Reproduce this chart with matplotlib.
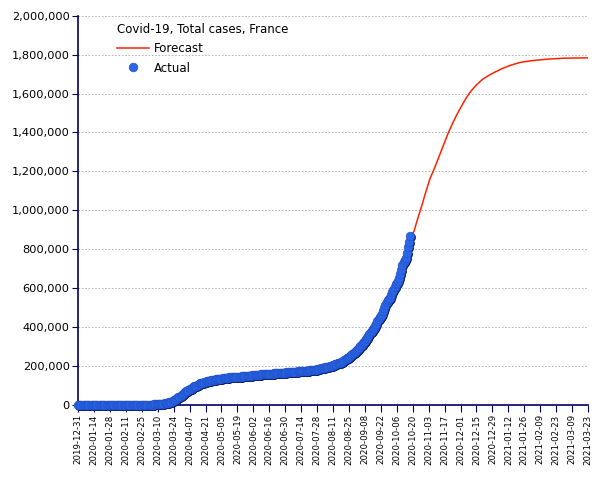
import matplotlib
matplotlib.use("Agg")
import matplotlib.pyplot as plt
import matplotlib.dates as mdates
import matplotlib.ticker as mticker
import matplotlib.transforms as mtransforms
import pandas as pd

# --- DATA ---
START_DATE = "2019-12-31"
END_DATE = "2021-03-23"

# daily total cases, 2019-12-31 .. 2020-10-18
actual_dec = [0]
actual_jan = [0, 0, 0, 0, 0, 0, 0, 0, 0, 0, 0, 0, 0, 0, 0, 0, 0, 0, 0, 0, 0, 0, 0, 0,
              3, 3, 3, 4, 4, 5, 5]
actual_feb = [6, 6, 6, 6, 6, 6, 6, 11, 11, 11, 11, 11, 11, 11,
              12, 12, 12, 12, 12, 12, 12, 12, 12, 12, 12, 18, 38, 57, 100]
actual_mar = [130, 191, 212, 285, 423, 613, 949, 1126, 1209, 1784, 2281, 2876, 3661,
              4499, 5423, 6633, 7730, 9134, 10995, 12612, 14459, 16018, 19856, 22302,
              25233, 29155, 32964, 37575, 40174, 44550, 52128]
actual_apr = [56989, 59105, 64338, 68605, 70478, 74390, 78167, 82048, 86334, 90276,
              93790, 95403, 98076, 103573, 106206, 108847, 109252, 111821, 112606,
              114657, 117324, 119151, 120804, 122577, 124114, 124575, 125770, 126835,
              128339, 129581]
actual_may = [130185, 130979, 131287, 131863, 132967, 137150, 137779, 138421, 138854,
              139063, 139519, 140227, 140734, 141356, 141919, 142291, 142411, 142903,
              143427, 143845, 144163, 144556, 144806, 145279, 145555, 145746, 146122,
              146476, 148524, 149071, 149668]
actual_jun = [151325, 151753, 152444, 153055, 153634, 153977, 154188, 154591, 155136,
              155561, 156287, 156813, 157220, 157716, 157716, 158174, 158641, 159452,
              160093, 160377, 160750, 160750, 161267, 161348, 162936, 162936, 164260,
              164260, 164260, 164801]
actual_jul = [165719, 166378, 166960, 167469, 167469, 167469, 168335, 168810, 169473,
              170094, 170752, 170752, 170752, 172377, 173304, 173304, 174674, 175027,
              175027, 175027, 176754, 177338, 178336, 180528, 180528, 180528, 180528,
              183079, 183804, 185196, 186573]
actual_aug = [187919, 187919, 187919, 191295, 192334, 194029, 195633, 197921, 197921,
              197921, 202775, 204172, 206696, 209365, 212211, 212211, 212211, 219029,
              221267, 225043, 229814, 234400, 238002, 238002, 242899, 248158, 253587,
              259698, 267077, 272530, 277943]
actual_sep = [281025, 286007, 293024, 300181, 309156, 317706, 324777, 328980, 335524,
              344101, 353944, 363350, 373911, 381094, 387252, 395104, 404888, 415481,
              428696, 442194, 452763, 458061, 468069, 481141, 497237, 513034, 527446,
              538569, 543987, 550690]
actual_oct = [563535, 577505, 589653, 606625, 619190, 624274, 634395, 653509, 671638,
              691977, 718873, 732434, 743479, 756472, 779063, 809684, 834770, 867197]

forecast_dates = ["2020-10-18", "2020-10-21", "2020-10-24", "2020-10-27", "2020-10-31",
                  "2020-11-04", "2020-11-08", "2020-11-12", "2020-11-16", "2020-11-20",
                  "2020-11-24", "2020-11-28", "2020-12-02", "2020-12-06", "2020-12-10",
                  "2020-12-15", "2020-12-20", "2020-12-25", "2020-12-31", "2021-01-07",
                  "2021-01-14", "2021-01-22", "2021-02-01", "2021-02-15", "2021-03-01",
                  "2021-03-23"]
forecast_values = [867000, 890000, 950000, 1005000, 1085000,
                   1160000, 1215000, 1275000, 1335000, 1395000,
                   1447000, 1495000, 1537000, 1578000, 1612000,
                   1645000, 1672000, 1691000, 1710000, 1730000,
                   1746000, 1760000, 1769000, 1777000, 1782000,
                   1784000]

actual_values = (actual_dec + actual_jan + actual_feb + actual_mar + actual_apr +
                 actual_may + actual_jun + actual_jul + actual_aug + actual_sep + actual_oct)
actual_dates = pd.date_range(START_DATE, periods=len(actual_values), freq="D")

NAVY = "#000066"

fig = plt.figure(figsize=(6.05, 4.8), dpi=100)
ax = fig.add_axes([0.129, 0.157, 0.843, 0.81])

ax.plot(pd.to_datetime(forecast_dates), forecast_values, color="#ff2200", lw=1.1,
        label="Forecast", zorder=3)

# dark shadow under each ball, then the ball itself
shadow = mtransforms.offset_copy(ax.transData, fig=fig, x=1.0, y=-1.0, units="dots")
ax.plot(actual_dates, actual_values, ls="none", marker="o", ms=6.4,
        markerfacecolor="#0a1a66", markeredgecolor="none",
        transform=shadow, zorder=4, clip_on=False)
ax.plot(actual_dates, actual_values, ls="none", marker="o", ms=6.3,
        markerfacecolor="#2a66e6", markeredgecolor="#2050c8", markeredgewidth=0.4,
        label="Actual", zorder=5, clip_on=False)

ax.set_xlim(pd.Timestamp(START_DATE), pd.Timestamp(END_DATE))
ax.set_ylim(0, 2000000)

ax.set_xticks(pd.date_range(START_DATE, END_DATE, freq="14D"))
ax.xaxis.set_major_formatter(mdates.DateFormatter("%Y-%m-%d"))
ax.yaxis.set_major_locator(mticker.MultipleLocator(200000))
ax.yaxis.set_major_formatter(mticker.FuncFormatter(lambda v, p: f"{int(v):,}"))

for lbl in ax.get_xticklabels():
    lbl.set_rotation(90)
    lbl.set_fontsize(6.2)
ax.tick_params(axis="y", labelsize=8.2, length=4, color=NAVY, pad=2)
ax.tick_params(axis="x", length=5, color=NAVY, pad=2)

ax.grid(axis="y", color="#aaaaaa", linestyle=(0, (2, 2)), lw=0.6)
ax.set_axisbelow(True)

for side in ["top", "right"]:
    ax.spines[side].set_visible(False)
for side in ["left", "bottom"]:
    ax.spines[side].set_color(NAVY)
    ax.spines[side].set_linewidth(1.2)

leg = ax.legend(title="Covid-19, Total cases, France", loc="upper left",
                bbox_to_anchor=(0.055, 1.01), frameon=False, fontsize=8.5,
                title_fontsize=8.5, handlelength=2.7, handletextpad=0.45,
                labelspacing=0.55)
leg._legend_box.align = "left"

fig.savefig("out.png", dpi=100)
